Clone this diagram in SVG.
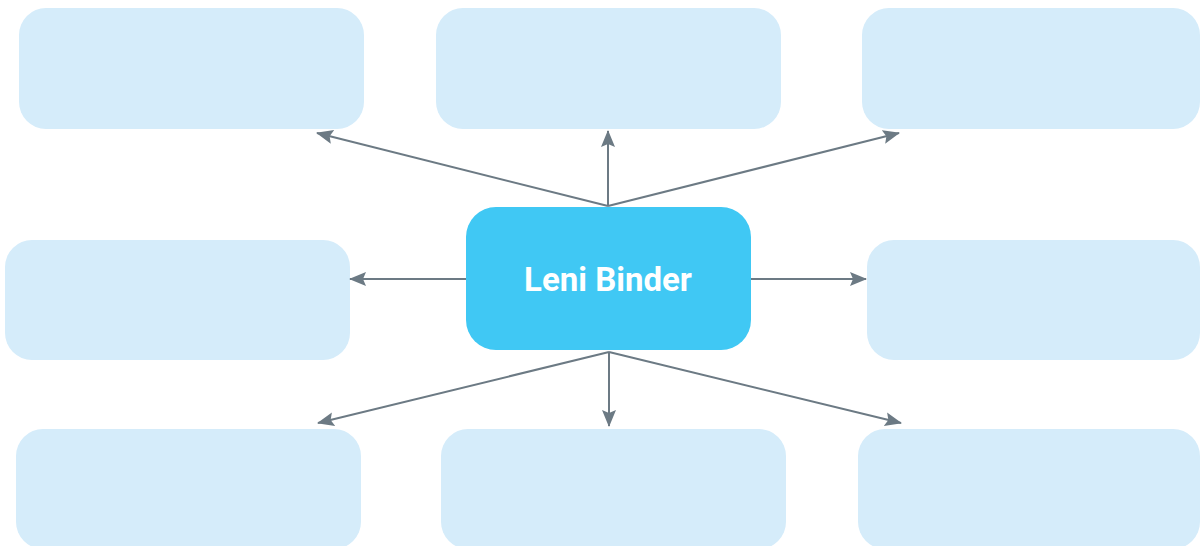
<svg xmlns="http://www.w3.org/2000/svg" width="1200" height="546" viewBox="0 0 1200 546">
<style>
.leaf{fill:#D5ECFA;}
.hub{fill:#40C8F4;}
.lbl{font-family:Roboto,"Liberation Sans",sans-serif;font-weight:700;font-size:33px;fill:#FFFFFF;text-anchor:middle;}
.conn{stroke:#6C7A84;stroke-width:2;fill:none;marker-end:url(#ah);}
</style>
<defs>
<marker id="ah" markerUnits="userSpaceOnUse" markerWidth="20" markerHeight="18" refX="16" refY="8" orient="auto">
<path d="M0,1 L17,8 L0,15 L3,8 Z" fill="#6C7A84"/>
</marker>
</defs>
<rect width="1200" height="546" fill="#FFFFFF"/>
<g id="node-tl"><rect class="leaf" x="19" y="8" width="345" height="121" rx="27"/></g>
<g id="node-tm"><rect class="leaf" x="436" y="8" width="345" height="121" rx="27"/></g>
<g id="node-tr"><rect class="leaf" x="862" y="8" width="338" height="121" rx="27"/></g>
<g id="node-ml"><rect class="leaf" x="5" y="240" width="345" height="120" rx="27"/></g>
<g id="node-mr"><rect class="leaf" x="867" y="240" width="333" height="120" rx="27"/></g>
<g id="node-bl"><rect class="leaf" x="16" y="429" width="345" height="120" rx="27"/></g>
<g id="node-bm"><rect class="leaf" x="441" y="429" width="345" height="120" rx="27"/></g>
<g id="node-br"><rect class="leaf" x="858" y="429" width="342" height="120" rx="27"/></g>
<g id="connectors">
<line class="conn" x1="608" y1="206" x2="608" y2="131"/>
<line class="conn" x1="608" y1="206" x2="317" y2="133"/>
<line class="conn" x1="608" y1="206" x2="899" y2="133"/>
<line class="conn" x1="466" y1="279" x2="350" y2="279"/>
<line class="conn" x1="751" y1="279" x2="866" y2="279"/>
<line class="conn" x1="609" y1="352" x2="318" y2="423"/>
<line class="conn" x1="609" y1="352" x2="609" y2="426"/>
<line class="conn" x1="609" y1="352" x2="901" y2="423"/>
</g>
<g id="node-center">
<rect class="hub" x="466" y="207" width="285" height="143" rx="30"/>
<text class="lbl" x="608" y="291">Leni Binder</text>
</g>
</svg>
